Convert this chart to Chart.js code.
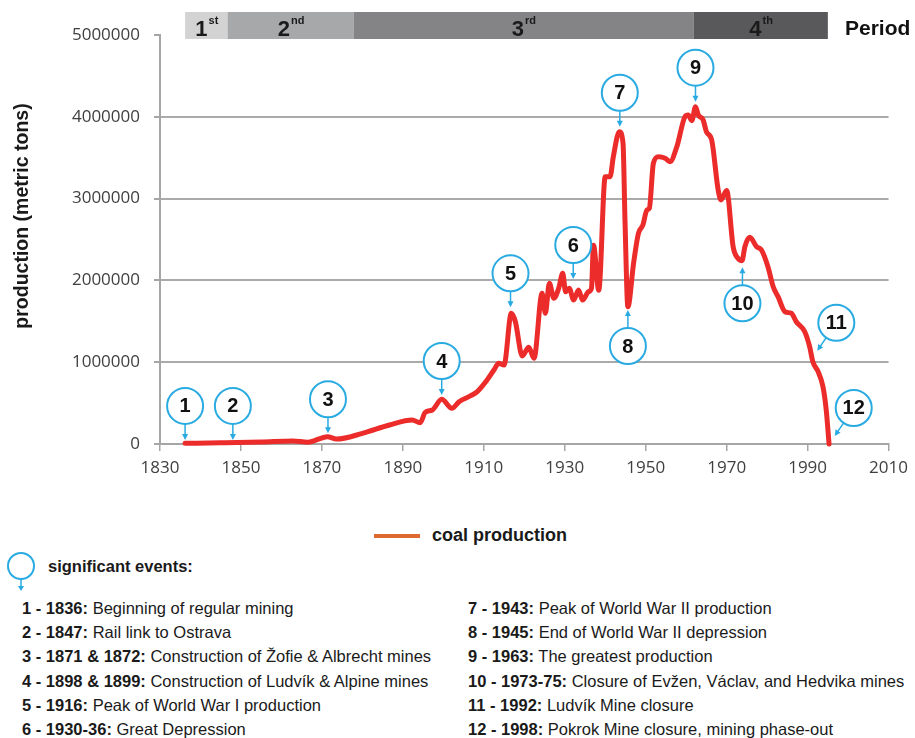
<!DOCTYPE html>
<html lang="en">
<head>
    <meta charset="UTF-8">
    <title>Coal production</title>
    <script src="https://cdn.jsdelivr.net/npm/chart.js"></script>
    <style>
        body { margin: 0; background: #fff; font-family: "Liberation Sans", Arial, sans-serif; color: #1a1a1a; }
        #page { position: relative; width: 915px; height: 738px; overflow: hidden; }
        #chart { position: absolute; left: 0; top: 0; }
        .legend-line { position: absolute; left: 374px; top: 534px; width: 46px; height: 4px; background: #e0692f; }
        .legend-text { position: absolute; left: 432px; top: 523px; font-weight: bold; font-size: 18px; line-height: 24px; }
        .events-icon { position: absolute; left: 0; top: 548px; }
        .events-title { position: absolute; left: 48px; top: 554px; font-weight: bold; font-size: 16.5px; line-height: 24px; }
        .col { position: absolute; top: 596px; font-size: 16.5px; line-height: 24.2px; white-space: nowrap; }
        .col b { font-weight: bold; }
    </style>
</head>
<body>
<div id="page">
    <canvas id="chart" width="915" height="500"></canvas>

    <div class="legend-line"></div>
    <div class="legend-text">coal production</div>

    <svg class="events-icon" width="42" height="46">
        <circle cx="21" cy="18" r="13" fill="none" stroke="#29abe2" stroke-width="2"/>
        <line x1="21" y1="31" x2="21" y2="40" stroke="#29abe2" stroke-width="1.5"/>
        <path d="M18 38 L24 38 L21 43 Z" fill="#29abe2"/>
    </svg>
    <div class="events-title">significant events:</div>

    <div class="col" id="colLeft" style="left:22px"></div>
    <div class="col" id="colRight" style="left:468px"></div>
</div>

<script>
    // coal production (year, metric tons)
    const years = [1836.2, 1845, 1855, 1862.8, 1866.5, 1871.4, 1873.6, 1880, 1886.7, 1892.3,
        1894.3, 1895.5, 1897.3, 1899.6, 1902.1, 1903.9, 1906.8, 1908.4, 1910.5, 1912.5,
        1913.7, 1915, 1916.8, 1917.8, 1919.5, 1921.1, 1922.4, 1924.4, 1925.2, 1926.2,
        1927.3, 1928.5, 1929.5, 1930.2, 1931.1, 1932.2, 1933.4, 1934.4, 1935.9, 1936.6,
        1937.1, 1938.4, 1940, 1941.2, 1942, 1943.5, 1944.4, 1944.9, 1945.6, 1947,
        1948.2, 1949.3, 1950.3, 1950.9, 1951.9, 1953.2, 1954.8, 1956, 1957.7, 1959.7,
        1960.5, 1961.4, 1962.3, 1963, 1964.2, 1965, 1966.3, 1967.9, 1968.6, 1970,
        1971.6, 1972.8, 1973.8, 1974.5, 1975.7, 1977.4, 1978.6, 1980.2, 1981.5, 1982.7,
        1984.4, 1986, 1987.2, 1989.3, 1990.5, 1991.3, 1992.6, 1993.8, 1994.6, 1995.3];
    const production = [8000, 14000, 24000, 38000, 22000, 90000, 60000, 130000, 232000, 293000,
        260000, 385000, 416000, 546000, 436000, 517000, 591000, 640000, 762000, 905000,
        986000, 966000, 1598000, 1495000, 1076000, 1182000, 1047000, 1842000, 1598000, 1965000,
        1781000, 1903000, 2087000, 1862000, 1903000, 1760000, 1883000, 1760000, 1862000, 1903000,
        2430000, 1880000, 3268000, 3268000, 3512000, 3818000, 3676000, 2698000, 1678000, 2209000,
        2576000, 2677000, 2861000, 2881000, 3432000, 3512000, 3493000, 3452000, 3635000, 4001000,
        4022000, 3952000, 4123000, 4022000, 3961000, 3818000, 3716000, 3105000, 2983000, 3100000,
        2412000, 2270000, 2241000, 2412000, 2527000, 2412000, 2372000, 2168000, 1923000, 1801000,
        1617000, 1598000, 1495000, 1373000, 1190000, 1006000, 884000, 700000, 416000, 0];

    const xTicks = [1830, 1850, 1870, 1890, 1910, 1930, 1950, 1970, 1990, 2010];
    const yTicks = [0, 1000000, 2000000, 3000000, 4000000, 5000000];

    // periods on the bar above the plot
    const periodNums = ['1', '2', '3', '4'];
    const periodSups = ['st', 'nd', 'rd', 'th'];
    const periodStart = [1836.2, 1846.7, 1877.8, 1961.8];
    const periodEnd = [1846.7, 1877.8, 1961.8, 1995];

    // numbered callouts: where the arrow points (year, tons)
    const eventNums = [1, 2, 3, 4, 5, 6, 7, 8, 9, 10, 11, 12];
    const eventYears = [1836.2, 1848, 1871.5, 1899.6, 1916.6, 1932.1, 1943.6, 1945.6, 1962.3, 1973.9, 1992.4, 1996.7];
    const eventValues = [50000, 50000, 131000, 599000, 1671000, 2017000, 3879000, 1638000, 4185000, 2160000, 1140000, 98000];
    const eventSide = ['up', 'up', 'up', 'up', 'up', 'up', 'up', 'down', 'up', 'down', 'diag', 'diag'];

    const eventHeads = ['1 - 1836:', '2 - 1847:', '3 - 1871 & 1872:', '4 - 1898 & 1899:', '5 - 1916:', '6 - 1930-36:',
        '7 - 1943:', '8 - 1945:', '9 - 1963:', '10 - 1973-75:', '11 - 1992:', '12 - 1998:'];
    const eventTexts = ['Beginning of regular mining', 'Rail link to Ostrava', 'Construction of Žofie & Albrecht mines',
        'Construction of Ludvík & Alpine mines', 'Peak of World War I production', 'Great Depression',
        'Peak of World War II production', 'End of World War II depression', 'The greatest production',
        'Closure of Evžen, Václav, and Hedvika mines', 'Ludvík Mine closure', 'Pokrok Mine closure, mining phase-out'];

    // event list below the chart
    eventHeads.forEach((h, i) => {
        const row = document.createElement('div');
        const b = document.createElement('b');
        b.textContent = h;
        row.appendChild(b);
        row.appendChild(document.createTextNode(' ' + eventTexts[i]));
        document.getElementById(i < 6 ? 'colLeft' : 'colRight').appendChild(row);
    });

    const blue = '#29abe2';
    const periodColors = ['#d3d3d4', '#a7a8aa', '#848486', '#59595b'];
    const barFont = '"Liberation Sans Narrow", "Liberation Sans", sans-serif';

    const overlay = {
        id: 'overlay',
        afterDraw(chart) {
            const ctx = chart.ctx;
            const xs = chart.scales.x, ys = chart.scales.y;
            ctx.save();

            // period bar
            periodStart.forEach((s, i) => {
                const x0 = xs.getPixelForValue(s), x1 = xs.getPixelForValue(periodEnd[i]);
                ctx.fillStyle = periodColors[i];
                ctx.fillRect(x0, 12, x1 - x0, 27);
                ctx.fillStyle = '#1a1a1a';
                ctx.textBaseline = 'alphabetic';
                ctx.textAlign = 'left';
                ctx.font = 'bold 22px ' + barFont;
                const w1 = ctx.measureText(periodNums[i]).width;
                ctx.font = 'bold 11px ' + barFont;
                const w2 = ctx.measureText(periodSups[i]).width;
                const sx = (x0 + x1) / 2 - (w1 + w2) / 2;
                ctx.font = 'bold 22px ' + barFont;
                ctx.fillText(periodNums[i], sx, 36);
                ctx.font = 'bold 11px ' + barFont;
                ctx.fillText(periodSups[i], sx + w1 + 1, 24);
            });
            ctx.font = 'bold 21px ' + barFont;
            ctx.fillStyle = '#111';
            ctx.fillText('Period', 845, 35);

            // y axis title
            ctx.save();
            ctx.translate(23, 216);
            ctx.rotate(-Math.PI / 2);
            ctx.textAlign = 'center';
            ctx.textBaseline = 'middle';
            ctx.font = 'bold 19.5px "Liberation Sans", Arial, sans-serif';
            ctx.fillStyle = '#1a1a1a';
            ctx.fillText('production (metric tons)', 0, 0);
            ctx.restore();

            // callouts
            const r = 18;
            eventNums.forEach((n, i) => {
                const tx = xs.getPixelForValue(eventYears[i]);
                const ty = ys.getPixelForValue(eventValues[i]);
                let cx = tx, cy = ty - 34;
                if (eventSide[i] === 'down') cy = ty + 36;
                if (eventSide[i] === 'diag') { cx = tx + 19; cy = ty - 28; }
                const dx = tx - cx, dy = ty - cy, len = Math.hypot(dx, dy);
                const ux = dx / len, uy = dy / len;
                // stem
                ctx.strokeStyle = blue;
                ctx.lineWidth = 1.5;
                ctx.beginPath();
                ctx.moveTo(cx + ux * r, cy + uy * r);
                ctx.lineTo(tx - ux * 4, ty - uy * 4);
                ctx.stroke();
                // arrow head
                ctx.fillStyle = blue;
                ctx.beginPath();
                ctx.moveTo(tx, ty);
                ctx.lineTo(tx - ux * 6 - uy * 3, ty - uy * 6 + ux * 3);
                ctx.lineTo(tx - ux * 6 + uy * 3, ty - uy * 6 - ux * 3);
                ctx.closePath();
                ctx.fill();
                // circle
                ctx.beginPath();
                ctx.arc(cx, cy, r, 0, Math.PI * 2);
                ctx.fillStyle = '#fff';
                ctx.fill();
                ctx.lineWidth = 2;
                ctx.strokeStyle = blue;
                ctx.stroke();
                ctx.fillStyle = '#111';
                ctx.font = 'bold 20px "Liberation Sans", Arial, sans-serif';
                ctx.textAlign = 'center';
                ctx.textBaseline = 'middle';
                ctx.fillText(String(n), cx, cy + 1);
            });
            ctx.restore();
        }
    };

    const tickFont = { family: '"Open Sans", sans-serif', size: 17 };

    new Chart(document.getElementById('chart'), {
        type: 'line',
        data: {
            datasets: [{
                label: 'coal production',
                data: years.map((yr, i) => ({ x: yr, y: production[i] })),
                borderColor: '#ec2b2b',
                borderWidth: 5,
                borderCapStyle: 'round',
                borderJoinStyle: 'round',
                pointRadius: 0,
                cubicInterpolationMode: 'monotone',
                fill: false,
                clip: 6
            }]
        },
        options: {
            responsive: false,
            animation: false,
            layout: { padding: { top: 35, right: 24, bottom: 26, left: 0 } },
            plugins: { legend: { display: false }, tooltip: { enabled: false } },
            scales: {
                x: {
                    type: 'linear',
                    min: 1830,
                    max: 2010,
                    afterBuildTicks: s => { s.ticks = xTicks.map(v => ({ value: v })); },
                    afterFit: s => { s.height = 30; },
                    ticks: { color: '#404040', font: tickFont, padding: 7, maxRotation: 0, callback: v => String(v) },
                    grid: { drawOnChartArea: false, tickLength: 7, color: '#a6a6a6', lineWidth: 1.5 },
                    border: { color: '#a6a6a6', width: 2 }
                },
                y: {
                    min: 0,
                    max: 5000000,
                    afterBuildTicks: s => { s.ticks = yTicks.map(v => ({ value: v })); },
                    afterFit: s => { s.width = 160; },
                    ticks: { color: '#404040', font: tickFont, padding: 14, callback: v => String(v) },
                    grid: {
                        tickLength: 6,
                        lineWidth: 2,
                        tickColor: '#a6a6a6',
                        color: c => (c.tick && c.tick.value === 5000000) ? 'rgba(0,0,0,0)' : '#aaaaaa'
                    },
                    border: { color: '#a6a6a6', width: 2 }
                }
            }
        },
        plugins: [overlay]
    });
</script>
</body>
</html>
